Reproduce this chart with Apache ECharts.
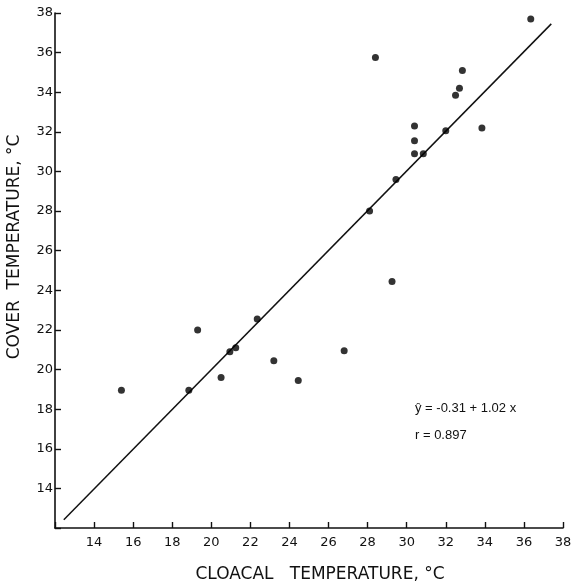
<!DOCTYPE html>
<html><head><meta charset="utf-8">
<script src="https://cdn.jsdelivr.net/npm/echarts@6/dist/echarts.min.js"></script>
<style>html,body{margin:0;padding:0;background:#fff}#c{width:576px;height:586px}</style>
</head><body><div id="c"></div>
<script>
var cloacal = [15.4, 18.85, 19.3, 20.5, 20.95, 21.25, 22.35, 23.2, 24.45, 26.8, 28.1, 28.4, 29.25, 29.45, 30.4, 30.4, 30.4, 30.85, 32.0, 32.5, 32.7, 32.85, 33.85, 36.35];
var cover   = [18.95, 18.95, 22.0, 19.6, 20.9, 21.1, 22.55, 20.45, 19.45, 20.95, 28.0, 35.75, 24.45, 29.6, 32.3, 31.55, 30.9, 30.9, 32.05, 33.85, 34.2, 35.1, 32.2, 37.7];
var lineX = [12.45, 37.4];
var lineY = [12.42, 37.45];
var eqText = "ŷ = -0.31 + 1.02 x";
var rText = "r = 0.897";
var xName = "CLOACAL   TEMPERATURE, °C";
var yName = "COVER  TEMPERATURE, °C";

var pts = cloacal.map(function(v,i){return [v, cover[i]];});
var ln = lineX.map(function(v,i){return [v, lineY[i]];});
var font = "DejaVu Sans";
function axis(isY){
  return {
    type:'value', min:12, max:38, interval:2,
    axisLine:{show:true, onZero:false, lineStyle:{color:'#111', width:1.6}},
    axisTick:{show:true, inside:true, length:6, lineStyle:{color:'#111', width:1.4}},
    axisLabel:{fontFamily:font, fontSize:13, color:'#111', margin: isY?2:8,
      formatter:function(v){return v===12?'':String(v);}},
    splitLine:{show:false}
  };
}
var chart = echarts.init(document.getElementById('c'));
chart.setOption({
  animation:false,
  backgroundColor:'#fff',
  grid:{left:55, right:13, top:13, bottom:58, containLabel:false},
  xAxis: axis(false),
  yAxis: axis(true),
  graphic:[
    {type:'text', x:320, y:575, style:{text:xName, font:'17px "DejaVu Sans"', fill:'#111', align:'center', verticalAlign:'middle'}},
    {type:'text', x:15, y:247, rotation:Math.PI/2, style:{text:yName, font:'17px "DejaVu Sans"', fill:'#111', align:'center', verticalAlign:'middle'}},
    {type:'text', left:415, top:402, style:{text:eqText, font:'13px "Liberation Sans"', fill:'#111'}},
    {type:'text', left:415, top:429, style:{text:rText, font:'13px "Liberation Sans"', fill:'#111'}}
  ],
  series:[
    {type:'line', data:ln, symbol:'none', lineStyle:{color:'#111', width:1.5}, z:2},
    {type:'scatter', data:pts, symbol:'circle', symbolSize:7, itemStyle:{color:'#000'}, z:3}
  ]
});
</script></body></html>
